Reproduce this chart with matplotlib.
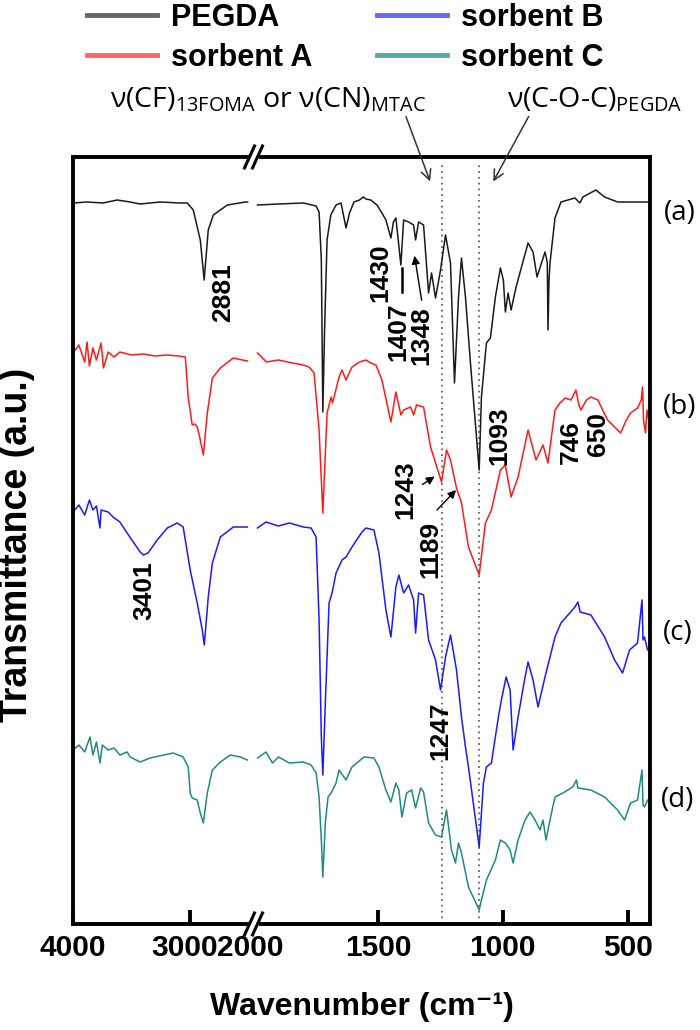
import matplotlib
matplotlib.use("Agg")
import matplotlib.pyplot as plt
from matplotlib.lines import Line2D
from matplotlib.patches import Rectangle
from matplotlib.transforms import ScaledTranslation

plt.rcParams['font.family'] = ['Liberation Sans', 'DejaVu Sans']

# ---------------- data (wavenumber, transmittance a.u., offset) ----------------
# PEGDA (a)
black_l_wn = [4000, 3880, 3743, 3624, 3513, 3427, 3256, 3085, 3025, 2974, 2914, 2881, 2846, 2803, 2683, 2529, 2510]
black_l_t = [72.1, 72.2, 72.1, 72.4, 72.2, 72.0, 72.2, 72.1, 72.1, 71.4, 68.4, 64.4, 69.4, 70.9, 71.9, 72.2, 72.2]
black_r_wn = [1984, 1900, 1800, 1749, 1737, 1728, 1722, 1715, 1705, 1690, 1669, 1649, 1629, 1615, 1597, 1575, 1560,
              1549, 1530, 1505, 1485, 1469, 1449, 1439, 1429, 1409, 1398, 1378, 1358, 1350, 1338, 1318, 1298, 1286,
              1270, 1250, 1230, 1210, 1194, 1178, 1166, 1150, 1130, 1095, 1086, 1066, 1050, 1030, 1010, 998, 990,
              979, 967, 947, 899, 879, 863, 831, 822, 819, 815, 811, 791, 767, 711, 691, 679, 627, 592, 540, 410]
black_r_t = [71.9, 72.0, 72.1, 71.8, 71.2, 66.4, 51.2, 59.4, 68.4, 70.9, 71.9, 72.1, 69.6, 71.1, 72.2, 72.4, 72.7,
             72.5, 72.4, 71.9, 71.1, 70.4, 68.6, 70.2, 70.6, 65.9, 70.4, 70.2, 69.9, 68.4, 70.2, 69.9, 63.1, 65.1,
             62.6, 65.4, 68.9, 66.1, 54.1, 62.7, 66.6, 62.7, 56.1, 45.4, 52.7, 58.1, 58.6, 62.7, 65.6, 64.4, 61.2,
             63.1, 61.4, 63.7, 68.1, 67.2, 64.7, 67.2, 66.2, 59.4, 64.4, 66.1, 70.6, 72.2, 72.6, 72.1, 72.7, 73.4,
             72.7, 72.2, 72.2]

# sorbent A (b)
red_l_wn = [4000, 3950, 3900, 3880, 3860, 3830, 3800, 3760, 3740, 3700, 3650, 3600, 3500, 3400, 3300, 3200, 3100,
            3042, 3017, 2983, 2960, 2940, 2914, 2888, 2854, 2811, 2743, 2632, 2555, 2512]
red_l_t = [57.1, 57.9, 56.2, 58.2, 55.8, 57.6, 56.4, 58.1, 55.6, 57.2, 56.7, 57.2, 56.9, 57.0, 56.8, 56.9, 56.8,
           56.7, 52.7, 49.9, 50.0, 49.7, 48.4, 46.9, 51.1, 54.6, 55.6, 56.6, 56.4, 56.3]
red_r_wn = [1984, 1948, 1900, 1844, 1800, 1777, 1757, 1737, 1722, 1705, 1689, 1683, 1657, 1645, 1629, 1605, 1575,
            1549, 1530, 1509, 1485, 1449, 1429, 1409, 1398, 1370, 1358, 1346, 1318, 1290, 1246, 1226, 1210, 1186,
            1166, 1138, 1095, 1070, 1046, 1010, 990, 967, 939, 899, 867, 839, 819, 791, 771, 750, 727, 707, 695,
            687, 665, 647, 619, 600, 580, 560, 528, 505, 488, 460, 445, 440, 436, 428, 422, 415, 410]
red_r_t = [57.1, 56.2, 56.4, 56.1, 55.9, 55.7, 55.1, 49.4, 41.1, 51.1, 52.7, 52.1, 54.7, 55.4, 54.4, 55.7, 56.2,
           56.4, 56.1, 55.9, 54.4, 50.2, 53.2, 50.9, 51.4, 51.7, 50.9, 51.9, 51.7, 47.7, 44.2, 47.4, 46.4, 43.6,
           42.1, 37.7, 34.9, 40.1, 41.4, 45.4, 45.9, 42.7, 44.7, 49.4, 46.4, 47.9, 46.1, 51.4, 52.1, 52.6, 52.4,
           53.4, 51.9, 51.4, 52.4, 52.7, 52.4, 51.4, 50.4, 49.9, 49.1, 50.4, 51.1, 51.6, 52.4, 53.7, 50.4, 49.1,
           51.4, 50.4, 50.6]

# sorbent B (c)
blue_l_wn = [4000, 3950, 3900, 3860, 3830, 3800, 3770, 3760, 3700, 3658, 3600, 3538, 3480, 3427, 3400, 3360, 3282,
             3196, 3111, 3060, 3000, 2940, 2897, 2880, 2846, 2811, 2743, 2632, 2512]
blue_l_t = [41.2, 41.9, 40.9, 42.4, 41.4, 41.8, 39.6, 41.4, 41.2, 40.7, 40.2, 39.1, 38.1, 37.2, 36.9, 37.1, 38.4,
            39.6, 40.1, 39.7, 35.4, 32.1, 29.4, 27.9, 32.7, 36.1, 38.7, 39.7, 39.7]
blue_r_wn = [1984, 1950, 1900, 1856, 1800, 1769, 1749, 1737, 1728, 1722, 1712, 1697, 1685, 1669, 1645, 1629, 1605,
             1565, 1549, 1517, 1497, 1469, 1449, 1429, 1417, 1398, 1378, 1358, 1350, 1338, 1318, 1298, 1270, 1250,
             1230, 1210, 1186, 1166, 1150, 1138, 1095, 1078, 1066, 1046, 1018, 1006, 987, 971, 959, 939, 911, 899,
             879, 859, 831, 791, 767, 711, 699, 690, 647, 592, 552, 520, 492, 460, 442, 438, 432, 420, 410]
blue_r_t = [39.6, 40.2, 39.8, 40.1, 39.7, 39.6, 38.7, 30.4, 18.7, 14.9, 22.1, 32.1, 33.1, 35.1, 36.4, 36.7, 37.7,
            39.2, 39.6, 39.4, 37.1, 31.4, 28.7, 33.7, 34.9, 33.1, 33.9, 32.4, 29.1, 33.1, 32.9, 28.4, 26.4, 23.4,
            26.7, 28.9, 25.4, 20.7, 17.7, 15.7, 7.7, 14.1, 15.7, 16.1, 20.7, 22.4, 24.7, 23.4, 17.4, 20.7, 24.7,
            26.2, 24.4, 21.7, 24.7, 28.7, 30.1, 31.7, 32.2, 31.2, 30.9, 28.7, 26.4, 25.1, 27.4, 28.1, 32.4, 28.4,
            28.7, 27.4, 27.6]

# sorbent C (d)
teal_l_wn = [4000, 3950, 3900, 3855, 3830, 3800, 3769, 3750, 3700, 3650, 3600, 3538, 3513, 3427, 3342, 3145, 3060,
             3017, 3000, 2983, 2940, 2914, 2888, 2854, 2811, 2743, 2658, 2572, 2512]
teal_l_t = [17.4, 17.9, 17.2, 18.7, 16.9, 18.2, 16.1, 17.9, 17.4, 17.6, 16.9, 17.2, 16.7, 16.2, 16.6, 17.1, 16.7,
            15.7, 13.1, 12.6, 12.4, 11.1, 10.1, 13.1, 15.4, 16.2, 16.9, 16.7, 16.4]
teal_r_wn = [1984, 1950, 1924, 1900, 1856, 1800, 1769, 1749, 1737, 1728, 1722, 1712, 1701, 1689, 1669, 1657, 1629,
             1605, 1557, 1517, 1497, 1469, 1449, 1429, 1417, 1405, 1386, 1366, 1350, 1330, 1318, 1298, 1270, 1246,
             1226, 1206, 1190, 1178, 1166, 1138, 1095, 1086, 1066, 1030, 1010, 990, 971, 959, 939, 911, 891, 871,
             851, 839, 827, 811, 791, 759, 720, 705, 699, 647, 592, 540, 512, 488, 460, 442, 438, 432, 420, 410]
teal_r_t = [16.6, 17.2, 16.1, 16.7, 16.1, 16.2, 15.9, 15.1, 12.7, 8.4, 4.7, 10.1, 12.7, 13.1, 14.1, 15.4, 14.4,
            15.7, 16.7, 16.6, 15.7, 13.4, 12.2, 14.1, 13.4, 10.7, 13.1, 13.4, 11.6, 13.6, 13.2, 10.1, 8.9, 8.7,
            11.4, 7.4, 6.1, 8.1, 7.1, 3.7, 1.4, 2.4, 4.4, 6.4, 8.4, 8.1, 7.4, 6.1, 8.4, 10.4, 11.2, 10.4, 9.4,
            10.4, 8.4, 10.4, 12.7, 13.1, 13.7, 14.4, 13.6, 13.4, 12.7, 11.4, 10.4, 12.1, 12.4, 15.4, 11.9, 11.7,
            12.4, 12.2]

series_names = ['PEGDA', 'sorbent A', 'sorbent B', 'sorbent C']
series_tags = ['(a)', '(b)', '(c)', '(d)']
colors = ['#1a1a1a', '#ff1a1a', '#1a1aff', '#1f8a80']
legend_colors = ['#666666', '#ff6666', '#6666ff', '#55aaa6']

left_ticks = [4000, 3000]
right_ticks = [2000, 1500, 1000, 500]
marker_lines = [1246, 1094]

# ---------------- figure ----------------
W, H = 700, 1030
fig = plt.figure(figsize=(W / 100, H / 100), dpi=100)

def fx(px):
    return px / W

def fy(py):
    return 1 - py / H

x0, x1, xb = 73, 650, 253.5
ytop, ybot = 157, 924
axL = fig.add_axes([fx(x0), fy(ybot), fx(xb - x0), fy(ytop) - fy(ybot)])
axR = fig.add_axes([fx(xb), fy(ybot), fx(x1 - xb), fy(ytop) - fy(ybot)], sharey=axL)
axL.set_xlim(4000, 2460)
axR.set_xlim(2000, 410)
axL.set_ylim(0, 76.7)

left_data = [(black_l_wn, black_l_t), (red_l_wn, red_l_t), (blue_l_wn, blue_l_t), (teal_l_wn, teal_l_t)]
right_data = [(black_r_wn, black_r_t), (red_r_wn, red_r_t), (blue_r_wn, blue_r_t), (teal_r_wn, teal_r_t)]
for (wl, tl), (wr, tr), c in zip(left_data, right_data, colors):
    axL.plot(wl, tl, color=c, lw=1.1)
    axR.plot(wr, tr, color=c, lw=1.1)

for wn in marker_lines:
    axR.axvline(wn, ymin=0, ymax=(ybot - 165) / (ybot - ytop), color='#666666', lw=1.3,
                linestyle=(0, (1, 2.2)), zorder=0)

lw_sp = 2.8
tick_fs = 21.5
for ax in (axL, axR):
    for s in ax.spines.values():
        s.set_linewidth(lw_sp)
    ax.set_yticks([])
    ax.tick_params(axis='x', direction='in', length=10, width=lw_sp, labelsize=tick_fs, pad=7)
axL.spines['right'].set_visible(False)
axR.spines['left'].set_visible(False)

axL.set_xticks(left_ticks)
axL.set_xticklabels([str(t) for t in left_ticks], fontweight='bold', fontsize=tick_fs)
axR.set_xticks(right_ticks)
axR.set_xticklabels([str(t) for t in right_ticks], fontweight='bold', fontsize=tick_fs)
axR.xaxis.get_major_ticks()[0].tick1line.set_visible(False)
lab3000 = axL.get_xticklabels()[1]
lab3000.set_transform(lab3000.get_transform() + ScaledTranslation(-4 / 72, 0, fig.dpi_scale_trans))
lab2000 = axR.get_xticklabels()[0]
lab2000.set_transform(lab2000.get_transform() + ScaledTranslation(-2 / 72, 0, fig.dpi_scale_trans))

# axis break marks
for ypix in (ytop, ybot):
    fig.add_artist(Rectangle((fx(xb - 5), fy(ypix) - 3 / H), 10 / W, 6 / H, transform=fig.transFigure,
                             facecolor='white', edgecolor='none', zorder=5))
    for dx in (-4, 4):
        cx = xb + dx
        fig.add_artist(Line2D([fx(cx - 5), fx(cx + 5)], [fy(ypix + 11), fy(ypix - 11)],
                              transform=fig.transFigure, color='black', lw=2.2, zorder=6))

# labels
fig.text(fx(362), fy(1007), 'Wavenumber (cm\u207b\u00b9)', ha='center', va='center',
         fontsize=23, fontweight='bold')
fig.text(fx(17), fy(545), 'Transmittance (a.u.)', ha='center', va='center', rotation=90,
         fontsize=27, fontweight='bold')

# legend
handles = [Line2D([], [], color=c, lw=3.5) for c in legend_colors]
fig.legend(handles, series_names, ncol=2, loc='upper left', bbox_to_anchor=(fx(87), fy(3)),
           frameon=False, prop={'size': 22, 'weight': 'bold'}, handlelength=2.3, handletextpad=0.45,
           columnspacing=2.1, labelspacing=0.32, borderpad=0, borderaxespad=0)

# band annotations
afont = ['Open Sans', 'DejaVu Sans']
fig.text(fx(268), fy(100), 'ν(CF)$_{\\mathregular{13FOMA}}$ or ν(CN)$_{\\mathregular{MTAC}}$', ha='center',
         va='center', fontsize=20.5, family=afont)
fig.text(fx(683), fy(100), 'ν(C-O-C)$_{\\mathregular{PEGDA}}$', ha='right', va='center', fontsize=20.5,
         family=afont)
axR.annotate('', xy=(1288, 74.0), xycoords='data', xytext=(405, H - 114), textcoords='figure pixels',
             arrowprops=dict(arrowstyle='->', color='#333333', lw=1.1, mutation_scale=18),
             annotation_clip=False)
axR.annotate('', xy=(1044, 74.0), xycoords='data', xytext=(530, H - 114), textcoords='figure pixels',
             arrowprops=dict(arrowstyle='->', color='#333333', lw=1.1, mutation_scale=18),
             annotation_clip=False)

# peak labels
pk = dict(rotation=90, ha='center', va='center', fontsize=19, fontweight='bold')
axL.text(2720, 63.1, '2881', **pk)
axL.text(3394, 33.3, '3401', **pk)
axR.text(1493, 65.1, '1430', **pk)
axR.text(1421, 59.2, '1407', **pk)
axR.text(1328, 58.8, '1348', **pk)
axR.text(1016, 48.8, '1093', **pk)
axR.text(727, 48.2, '746', **pk)
axR.text(619, 49.0, '650', **pk)
axR.text(1389, 43.4, '1243', **pk)
axR.text(1292, 37.5, '1189', **pk)
axR.text(1252, 19.3, '1247', **pk)
axR.plot([1405, 1405], [63.2, 65.6], color='black', lw=1.8)
head = dict(arrowstyle='-|>', color='black', lw=1.0, mutation_scale=12)
axR.annotate('', xy=(1356, 67.1), xytext=(1324, 62.1), arrowprops=head)
axR.annotate('', xy=(1264, 44.9), xytext=(1332, 43.8), arrowprops=head)
axR.annotate('', xy=(1180, 43.6), xytext=(1272, 41.2), arrowprops=head)

# curve tags
for tag, (px, py) in zip(series_tags, [(680, 213), (680, 407), (678, 633), (678, 800)]):
    fig.text(fx(px), fy(py), tag, ha='center', va='center', fontsize=20, family=afont)

fig.savefig('out.png', dpi=100)
